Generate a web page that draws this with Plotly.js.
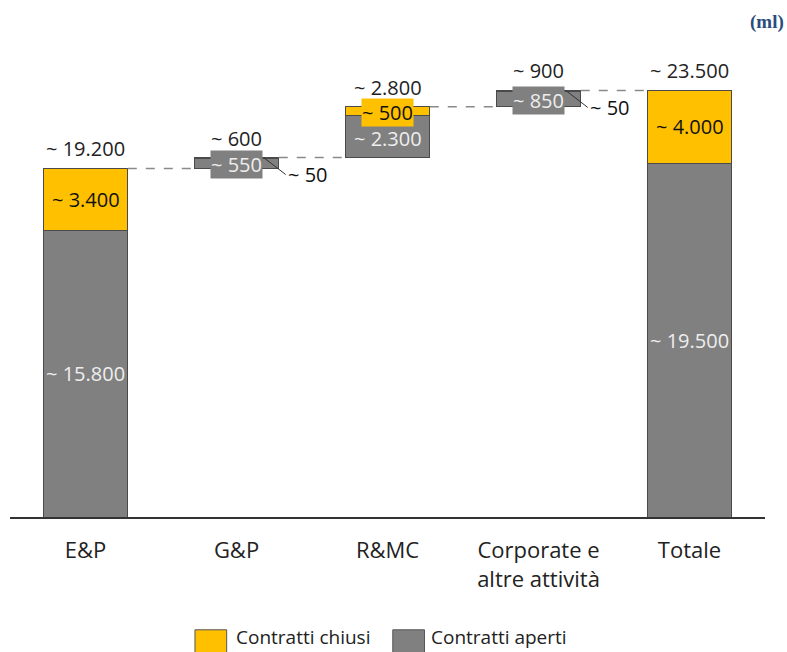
<!DOCTYPE html>
<html>
<head>
<meta charset="utf-8">
<script src="https://cdn.plot.ly/plotly-3.0.1.min.js"></script>
<style>html,body{margin:0;padding:0;background:#fff;}#chart{width:787px;height:652px;}</style>
</head>
<body>
<div id="chart"></div>
<script>
const categories = ["E&P", "G&P", "R&MC", "Corporate e<br>altre attività", "Totale"];
const baseValues = [0, 19200, 19800, 22600, 0];
const apertiValues = [15800, 550, 2300, 850, 19500];
const chiusiValues = [3400, 50, 500, 50, 4000];
const totalLabels = ["~ 19.200", "~ 600", "~ 2.800", "~ 900", "~ 23.500"];
const apertiLabels = ["~ 15.800", "~ 550", "~ 2.300", "~ 850", "~ 19.500"];
const chiusiLabels = ["~ 3.400", "~ 50", "~ 500", "~ 50", "~ 4.000"];

const GREY = "#808080", YELLOW = "#FFC000", EDGE = "#4a4a4a";
const FONT = "Open Sans, Liberation Sans, sans-serif";
const FS = 20;
const W = 0.56, HALF = W / 2;
const xs = categories.map((c, i) => i);

const traces = [
  {type: "bar", x: xs, y: baseValues, marker: {color: "rgba(0,0,0,0)"}, width: W, hoverinfo: "skip", showlegend: false},
  {type: "bar", x: xs, y: apertiValues, name: "Contratti aperti", width: W, marker: {color: GREY, line: {color: EDGE, width: 1}}, showlegend: false},
  {type: "bar", x: xs, y: chiusiValues, name: "Contratti chiusi", width: W, marker: {color: YELLOW, line: {color: EDGE, width: 1}}, showlegend: false}
];

const annotations = [];
const shapes = [];
const tops = xs.map(i => baseValues[i] + apertiValues[i] + chiusiValues[i]);
const bigBar = i => apertiValues[i] > 5000;

xs.forEach(i => {
  annotations.push({x: i, y: tops[i], text: totalLabels[i], showarrow: false, yanchor: "bottom", yshift: 4,
    font: {family: FONT, size: FS, color: "#222"}});
  if (bigBar(i)) {
    annotations.push({x: i, y: baseValues[i] + apertiValues[i] / 2, text: apertiLabels[i], showarrow: false,
      font: {family: FONT, size: FS, color: "#eeeeee"}});
    annotations.push({x: i, y: baseValues[i] + apertiValues[i] + chiusiValues[i] / 2, text: chiusiLabels[i], showarrow: false,
      font: {family: FONT, size: FS, color: "#111"}});
  } else if (chiusiValues[i] >= 300) {
    annotations.push({x: i, y: baseValues[i] + apertiValues[i] / 2, text: apertiLabels[i], showarrow: false, yshift: -2,
      font: {family: FONT, size: FS, color: "#eeeeee"}});
    annotations.push({x: i, y: baseValues[i] + apertiValues[i] + chiusiValues[i] / 2, text: chiusiLabels[i], showarrow: false,
      bgcolor: YELLOW, borderpad: 0, yshift: -1, font: {family: FONT, size: FS, color: "#111"}});
  } else {
    annotations.push({x: i, y: baseValues[i] + apertiValues[i] / 2, text: apertiLabels[i], showarrow: false,
      bgcolor: GREY, borderpad: 0, yshift: -1, font: {family: FONT, size: FS, color: "#eeeeee"}});
    annotations.push({x: i + HALF - 0.1, y: tops[i], text: chiusiLabels[i], showarrow: true, arrowhead: 0,
      arrowwidth: 1, arrowcolor: "#333", ax: 22, ay: 17, xanchor: "left", yanchor: "middle",
      font: {family: FONT, size: FS, color: "#111"}});
  }
});

for (let i = 0; i < xs.length - 1; i++) {
  shapes.push({type: "line", xref: "x", yref: "y", x0: i + HALF, x1: i + 1 - HALF, y0: tops[i], y1: tops[i],
    line: {color: "#8a8a8a", width: 1.5, dash: "dash"}});
}

const leg = [["Contratti chiusi", YELLOW, 0.245, 0.298], ["Contratti aperti", GREY, 0.507, 0.556]];
leg.forEach(([t, c, x, tx]) => {
  shapes.push({type: "rect", xref: "paper", yref: "paper", x0: x, x1: x + 0.042, y0: -0.239, y1: -0.3,
    fillcolor: c, line: {color: "#555", width: 1}});
  annotations.push({xref: "paper", yref: "paper", x: tx, y: -0.254, text: t, showarrow: false, borderpad: 0,
    xanchor: "left", yanchor: "middle", font: {family: FONT, size: 19, color: "#222"}});
});

annotations.push({xref: "paper", yref: "paper", x: 1.028, y: 1.049, xanchor: "right", yanchor: "middle",
  text: "<b>(ml)</b>", showarrow: false, font: {family: "Liberation Serif, DejaVu Serif, serif", size: 19, color: "#2b4c7e"}});

const layout = {
  width: 787, height: 652,
  margin: {l: 10, r: 22, t: 45, b: 135},
  barmode: "stack",
  paper_bgcolor: "#fff", plot_bgcolor: "#fff",
  showlegend: false,
  xaxis: {tickmode: "array", tickvals: xs, ticktext: categories, range: [-0.5, 4.5],
    showline: true, linecolor: "#333", linewidth: 1.5, ticks: "", showgrid: false, zeroline: false,
    tickfont: {family: FONT, size: 22, color: "#222"}, ticklabelstandoff: 13},
  yaxis: {range: [0, 26000], visible: false, showgrid: false, zeroline: false},
  annotations: annotations,
  shapes: shapes
};

Plotly.newPlot("chart", traces, layout, {displayModeBar: false, staticPlot: true});
</script>
</body>
</html>
